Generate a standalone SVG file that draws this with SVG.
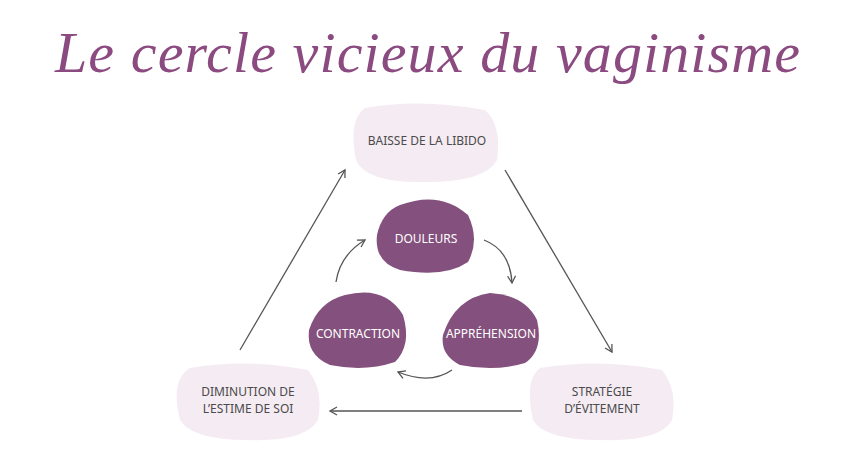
<svg xmlns="http://www.w3.org/2000/svg" width="851" height="461" viewBox="0 0 851 461">
<style>
.t{font-family:"Noto Sans","Liberation Sans",sans-serif;font-size:12px;text-anchor:middle}
.d{fill:#f5ebf2}.p{fill:#84507d}
.dt{fill:#4a4a4a}.pt{fill:#fff}
.c{fill:none;stroke:#555;stroke-width:1.3;marker-end:url(#a)}
</style>
<defs><marker id="a" markerWidth="10" markerHeight="10" refX="8" refY="5" orient="auto" markerUnits="userSpaceOnUse"><path d="M1,1 L8,5 L1,9" fill="none" stroke="#555" stroke-width="1.3"/></marker></defs>
<rect width="851" height="461" fill="#fff"/>
<text x="55" y="72" font-family="Liberation Serif,serif" font-style="italic" font-size="58" fill="#8b4a80" textLength="745" lengthAdjust="spacing">Le cercle vicieux du vaginisme</text>
<g id="connectors">
<line class="c" x1="240" y1="350" x2="345" y2="170"/>
<line class="c" x1="505" y1="170" x2="612" y2="352"/>
<line class="c" x1="522" y1="411" x2="330" y2="411"/>
<path class="c" d="M484,240 Q510,250 512,283"/>
<path class="c" d="M452,370 Q430,385 398,372"/>
<path class="c" d="M336,282 Q340,255 365,240"/>
</g>
<g id="baisse"><path class="d" d="M365,108 Q420,98 485,110 Q502,125 497,160 Q485,183 420,182 Q365,182 356,160 Q348,120 365,108Z"/><text class="t dt" x="427" y="145">BAISSE DE LA LIBIDO</text></g>
<g id="strategie"><path class="d" d="M540,368 Q600,358 662,370 Q678,390 672,420 Q660,442 600,440 Q545,440 533,420 Q524,380 540,368Z"/><text class="t dt" x="602" y="396">STRATÉGIE</text><text class="t dt" x="602" y="413">D’ÉVITEMENT</text></g>
<g id="diminution"><path class="d" d="M190,368 Q245,358 308,370 Q324,390 318,420 Q305,442 248,440 Q192,440 180,420 Q170,380 190,368Z"/><text class="t dt" x="248" y="396">DIMINUTION DE</text><text class="t dt" x="248" y="413">L’ESTIME DE SOI</text></g>
<g id="douleurs"><path class="p" d="M400,205 Q440,190 468,215 Q480,240 468,262 Q445,278 400,270 Q374,262 377,235 Q382,212 400,205Z"/><text class="t pt" x="426" y="243">DOULEURS</text></g>
<g id="contraction"><path class="p" d="M345,295 Q385,285 403,315 Q412,345 395,362 Q365,372 330,365 Q306,355 309,330 Q318,302 345,295Z"/><text class="t pt" x="358" y="338">CONTRACTION</text></g>
<g id="apprehension"><path class="p" d="M490,293 Q525,295 537,320 Q544,350 525,363 Q495,372 460,365 Q440,355 443,335 Q455,298 490,293Z"/><text class="t pt" x="491" y="338">APPRÉHENSION</text></g>
</svg>
